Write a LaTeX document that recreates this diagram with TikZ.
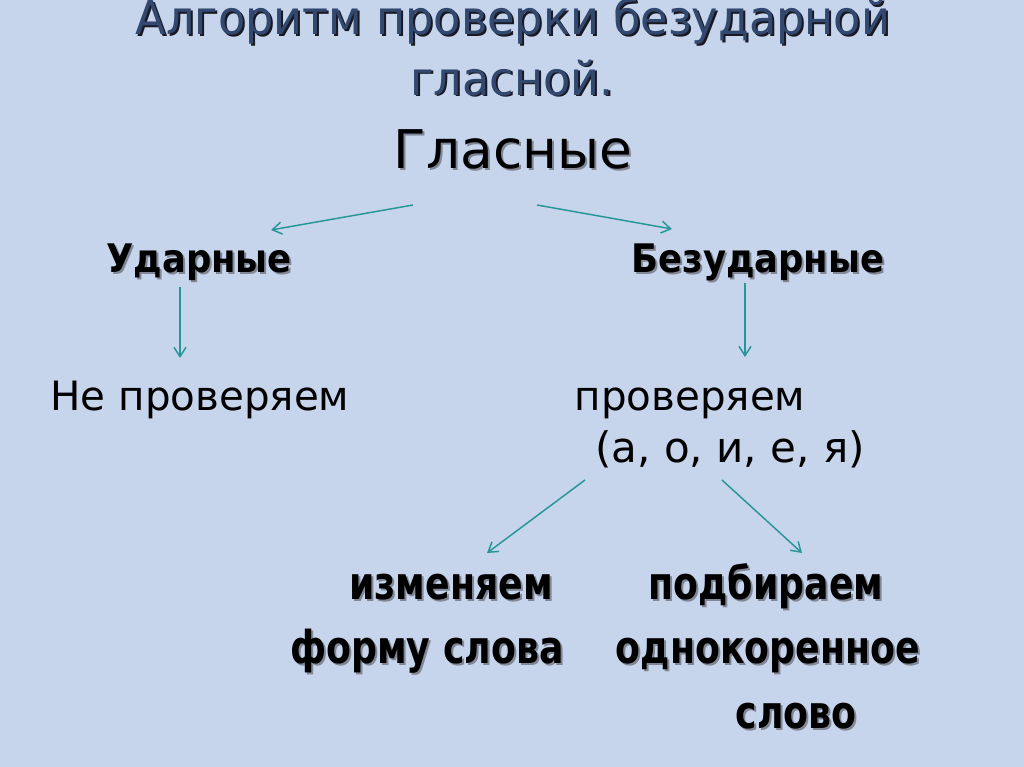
\documentclass[tikz,border=0pt]{standalone}
\usepackage{fontspec}
\setmainfont{DejaVu Sans}
\newfontfamily\condf{DejaVu Sans Condensed}
\newfontfamily\ttlf{DejaVu Sans}[FakeStretch=0.955]
\newfontfamily\botf{DejaVu Sans Condensed}[FakeStretch=0.89]
\usetikzlibrary{arrows.meta}
\definecolor{bgc}{RGB}{198,212,236}
\definecolor{titc}{RGB}{50,72,110}
\definecolor{arrc}{RGB}{40,150,150}
\definecolor{shdark}{RGB}{25,25,35}
\definecolor{shlight}{RGB}{130,135,150}
% text with a drop shadow: #1 shadow colour, #2 offset, #3 text
\newcommand\shtxt[3]{\rlap{\hspace{#2}\raisebox{-#2}{\color{#1}#3}}#3}
\tikzset{
  ttl/.style={anchor=base,font=\ttlf\fontsize{35}{40}\selectfont,text=titc},
  hdr/.style={anchor=base,font=\fontsize{40}{46}\selectfont,text=black},
  lvl/.style={anchor=base,font=\condf\bfseries\fontsize{29.5}{36}\selectfont,text=black},
  plain/.style={anchor=base,font=\fontsize{30.3}{36}\selectfont,text=black},
  plainb/.style={anchor=base,font=\fontsize{31.5}{36}\selectfont,text=black},
  bot/.style={anchor=base,font=\botf\bfseries\fontsize{34}{40}\selectfont,text=black},
  conn/.style={draw=arrc,line width=1.1pt,-{Straight Barb[length=7pt,width=9pt]}},
}
\begin{document}
\begin{tikzpicture}[x=0.75pt,y=-0.75pt]
\fill[bgc] (0,0) rectangle (1024,767);
\useasboundingbox (0,0) rectangle (1024,767);
% title
\node[ttl] (t1) at (513,35) {\shtxt{shdark}{1.5pt}{Алгоритм проверки безударной}};
\node[ttl] (t2) at (512,95) {\shtxt{shdark}{1.5pt}{гласной.}};
% header
\node[hdr] (gl) at (513,168) {\shtxt{shlight}{1.5pt}{Гласные}};
% level 1
\node[lvl] (ud) at (199,272) {\shtxt{shlight}{1.5pt}{Ударные}};
\node[lvl] (bz) at (758,272) {\shtxt{shlight}{1.5pt}{Безударные}};
% level 2
\node[plain] (np) at (200,410) {Не проверяем};
\node[plain] (pr) at (690,410) {проверяем};
\node[plainb] (vw) at (730,462) {(а, о, и, е, я)};
% level 3
\node[bot] (iz) at (451,599) {\shtxt{shlight}{1.5pt}{изменяем}};
\node[bot] (pd) at (766,599) {\shtxt{shlight}{1.5pt}{подбираем}};
\node[bot] (fm) at (427,663) {\shtxt{shlight}{1.5pt}{форму слова}};
\node[bot] (od) at (768,663) {\shtxt{shlight}{1.5pt}{однокоренное}};
\node[bot] (sl) at (796,728) {\shtxt{shlight}{1.5pt}{слово}};
% connector end points
\coordinate (a1) at (413,205);
\coordinate (a1e) at (271,230);
\coordinate (a2) at (537,205);
\coordinate (a2e) at (672,229);
\coordinate (b1) at (180,287);
\coordinate (b1e) at (180,358);
\coordinate (b2) at (745,283);
\coordinate (b2e) at (745,357);
\coordinate (c1) at (585,480);
\coordinate (c1e) at (487,553);
\coordinate (c2) at (722,480);
\coordinate (c2e) at (802,553);
\draw[conn] (a1) -- (a1e);
\draw[conn] (a2) -- (a2e);
\draw[conn] (b1) -- (b1e);
\draw[conn] (b2) -- (b2e);
\draw[conn] (c1) -- (c1e);
\draw[conn] (c2) -- (c2e);
\end{tikzpicture}
\end{document}
